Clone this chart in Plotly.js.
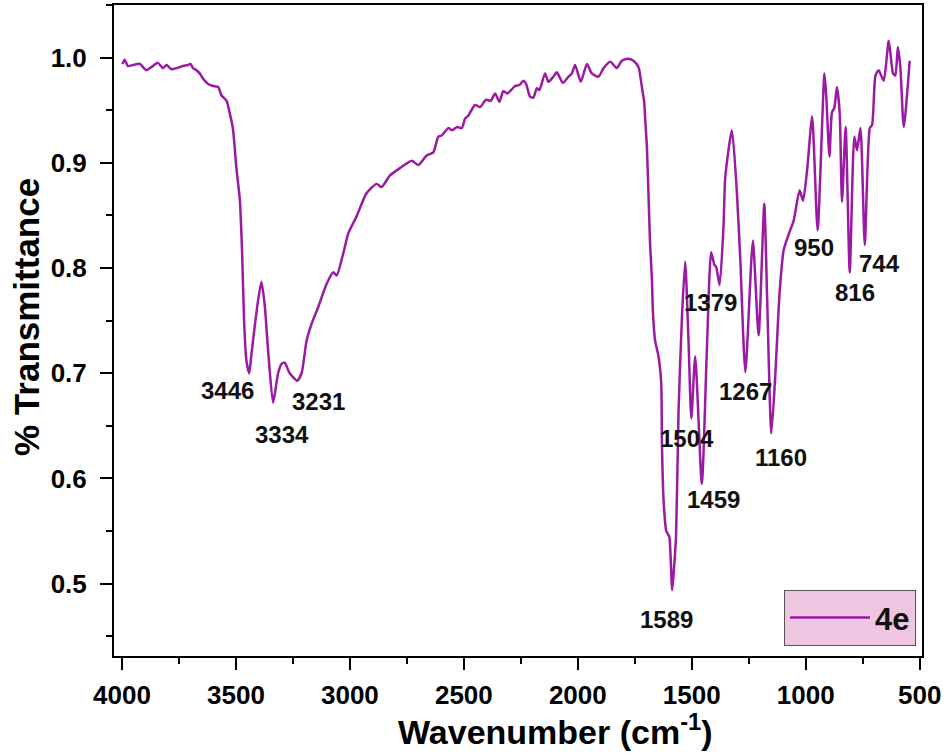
<!DOCTYPE html>
<html>
<head>
<meta charset="utf-8">
<script src="https://cdn.plot.ly/plotly-3.0.1.min.js"></script>
<style>html,body{margin:0;padding:0;background:#fff;}#chart{width:947px;height:755px;}</style>
</head>
<body>
<div id="chart"></div>
<script>
// Wavenumber (cm-1)
const wavenumber = [3998,3988,3974,3952,3922,3893,3871,3842,3820,3805,3783,3761,3732,3710,3700,3688,3673,3659,3644,3622,3600,3578,3563,3541,3527,3513,3498,3483,3473,3464,3454,3442,
3435,3425,3403,3388,3373,3359,3337,3315,3300,3286,3264,3231,3212,3190,3168,3139,3102,3073,3058,3029,3007,2971,2927,2883,2861,2824,2780,2729,2700,2663,2634,2612,2597,2568,2551,2529,2509,2495,2480,2451,2429,2403,2382,2363,2344,2327,2309,2275,2256,2239,2227,2210,2195,2180,2169,2144,2129,2107,2092,2066,2041,2026,2012,1987,1960,1939,1909,1887,1858,1829,1807,1780,1756,1734,1719,1709,1704,1697,1690,1683,1675,1671,1661,1646,1634,1631,1624,1612,1604,1598,1586,1578,1569,1558,1543,1529,1514,1502,1485,1456,1433,1415,1401,1393,1378,1361,1353,1324,1302,1287,1265,1232,1207,1182,1170,1151,1134,1115,1097,1075,1053,1027,1012,994,972,948,918,910,896,885,875,863,851,841,825,807,787,775,760,741,719,709,694,680,658,636,617,607,596,585,570,544];
// Transmittance
const transmittance = [0.994,0.998,0.992,0.993,0.994,0.988,0.991,0.995,0.990,0.993,0.989,0.990,0.992,0.993,0.994,0.990,0.988,0.985,0.980,0.975,0.973,0.972,0.964,0.959,0.947,0.932,0.895,0.865,0.815,0.748,0.712,0.700,
0.712,0.731,0.769,0.787,0.763,0.722,0.672,0.700,0.709,0.710,0.700,0.693,0.700,0.731,0.747,0.763,0.785,0.796,0.793,0.814,0.833,0.849,0.871,0.880,0.877,0.888,0.895,0.902,0.898,0.907,0.910,0.925,0.926,0.933,0.931,0.934,0.933,0.942,0.945,0.955,0.953,0.960,0.959,0.966,0.958,0.968,0.966,0.973,0.974,0.978,0.975,0.963,0.962,0.971,0.969,0.985,0.977,0.982,0.986,0.976,0.982,0.985,0.993,0.977,0.994,0.985,0.982,0.990,0.996,0.990,0.997,0.999,0.997,0.991,0.972,0.958,0.940,0.915,0.870,0.823,0.790,0.760,0.731,0.716,0.690,0.633,0.580,0.550,0.547,0.544,0.494,0.515,0.546,0.665,0.754,0.806,0.728,0.657,0.716,0.595,0.728,0.815,0.803,0.801,0.784,0.839,0.887,0.931,0.871,0.807,0.701,0.826,0.736,0.861,0.776,0.643,0.697,0.776,0.817,0.832,0.845,0.874,0.864,0.893,0.944,0.836,0.985,0.963,0.906,0.948,0.952,0.972,0.947,0.863,0.934,0.796,0.925,0.912,0.933,0.822,0.933,0.936,0.983,0.988,0.978,1.016,0.985,0.983,1.010,0.991,0.934,0.997];

// Peak labels
const peakLabels = ["3446","3334","3231","1589","1504","1459","1379","1267","1160","950","816","744"];
const peakLabelX = [3538,3299,3136,1613,1520,1406,1416,1265,1107,962,783,677];
const peakLabelY = [0.684,0.642,0.673,0.466,0.638,0.580,0.767,0.683,0.620,0.820,0.777,0.804];

const xTicks = [4000,3500,3000,2500,2000,1500,1000,500];
const seriesName = "4e";
const xTitle = "Wavenumber (cm<sup>-1</sup>)";
const yTitle = "% Transmittance";

const FONT = "Liberation Sans, Arial, sans-serif";
const LINE = "#9A1AA3";

const trace = {
  x: wavenumber, y: transmittance, type: "scatter", mode: "lines",
  name: seriesName, line: {color: LINE, width: 2.5, shape: "spline", smoothing: 0.6}
};

const annotations = peakLabels.map((t, i) => ({
  x: peakLabelX[i], y: peakLabelY[i], xref: "x", yref: "y", text: t,
  showarrow: false, xanchor: "center", yanchor: "middle",
  font: {family: FONT, size: 24, weight: "bold", color: "#111"}
}));

// axis titles (placed as in the reference, slightly off-centre)
annotations.push({
  x: 0.547, y: -0.1125, xref: "paper", yref: "paper", text: xTitle,
  showarrow: false, xanchor: "center", yanchor: "middle",
  font: {family: FONT, size: 34, weight: "bold", color: "#000"}
});
annotations.push({
  x: -0.1083, y: 0.5215, xref: "paper", yref: "paper", text: yTitle, textangle: -90,
  showarrow: false, xanchor: "center", yanchor: "middle",
  font: {family: FONT, size: 35, weight: "bold", color: "#000"}
});

const layout = {
  width: 947, height: 755,
  margin: {l: 114, r: 25, t: 5, b: 99},
  paper_bgcolor: "#fff", plot_bgcolor: "#fff",
  showlegend: true,
  legend: {
    x: 0.9926, y: 0.0154, xanchor: "right", yanchor: "bottom",
    bgcolor: "#EEC6E2", bordercolor: "#555", borderwidth: 1,
    font: {family: FONT, size: 31, weight: "bold", color: "#111"},
    itemwidth: 80
  },
  xaxis: {
    range: [4035, 490], tickmode: "array", tickvals: xTicks, ticktext: xTicks.map(String),
    ticks: "outside", ticklen: 12, tickwidth: 2, tickcolor: "#000",
    showline: true, linewidth: 2, linecolor: "#000", mirror: true,
    showgrid: false, zeroline: false, ticklabelstandoff: 3,
    minor: {tick0: 0, dtick: 250, ticks: "outside", ticklen: 6, tickwidth: 2, tickcolor: "#000", showgrid: false},
    tickfont: {family: FONT, size: 26, weight: "bold", color: "#000"}
  },
  yaxis: {
    range: [0.4313, 1.05], tick0: 0, dtick: 0.1, tickformat: ".1f",
    ticks: "outside", ticklen: 12, tickwidth: 2, tickcolor: "#000",
    showline: true, linewidth: 2, linecolor: "#000", mirror: true,
    showgrid: false, zeroline: false, ticklabelstandoff: 8,
    minor: {tick0: 0, dtick: 0.05, ticks: "outside", ticklen: 6, tickwidth: 2, tickcolor: "#000", showgrid: false},
    tickfont: {family: FONT, size: 26, weight: "bold", color: "#000"}
  },
  annotations: annotations
};

Plotly.newPlot("chart", [trace], layout, {displayModeBar: false, staticPlot: true});
</script>
</body>
</html>
